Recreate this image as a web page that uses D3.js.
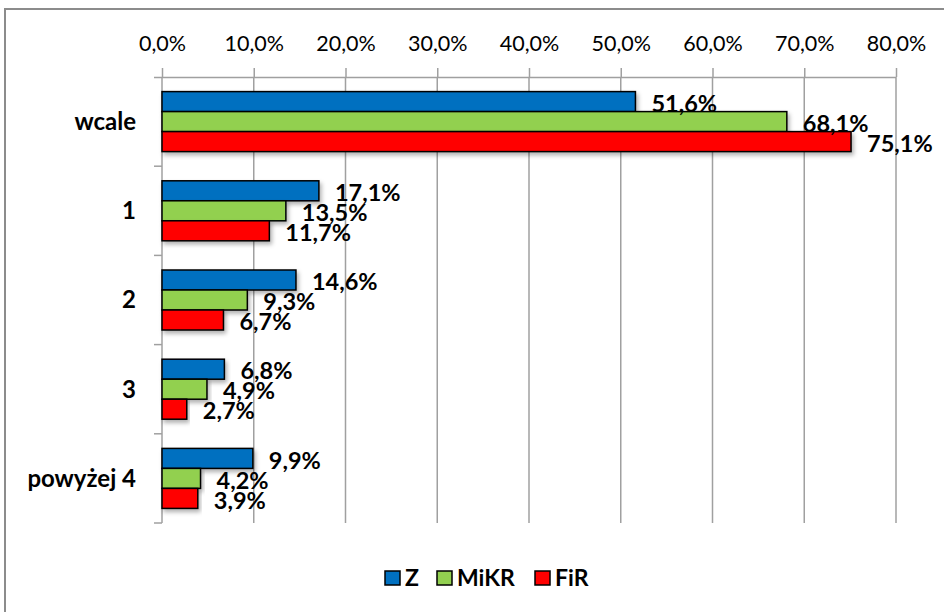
<!DOCTYPE html>
<html>
<head>
<meta charset="utf-8">
<script src="https://cdn.jsdelivr.net/npm/d3@7"></script>
<style>
  body { margin: 0; background: #fff; }
  svg { display: block; }
</style>
</head>
<body>
<div id="root"></div>
<script>
const categories = ["wcale", "1", "2", "3", "powyżej 4"]
const series = ["Z", "MiKR", "FiR"]
const valuesZ = [51.6, 17.1, 14.6, 6.8, 9.9]
const valuesMiKR = [68.1, 13.5, 9.3, 4.9, 4.2]
const valuesFiR = [75.1, 11.7, 6.7, 2.7, 3.9]
const ticks = [0, 10, 20, 30, 40, 50, 60, 70, 80]
const colors = ["#0070C0", "#92D050", "#FF0000"]

const w = 944, h = 612
const seriesValues = [valuesZ, valuesMiKR, valuesFiR]
const fmt = v => v.toFixed(1).replace(".", ",") + "%"

//scales
const x = d3.scaleLinear().domain([0, 80]).range([162, 896])
const y = d3.scaleBand().domain(categories).range([77, 523])
const ySub = d3.scaleBand().domain(series).range([0, y.bandwidth()]).paddingOuter(0.73)

const svg = d3.select("#root").append("svg")
    .attr("width", w)
    .attr("height", h)

const defs = svg.append("defs")
defs.append("filter").attr("id", "shadow")
    .attr("x", "-5%").attr("y", "-30%").attr("width", "115%").attr("height", "180%")
    .append("feDropShadow")
    .attr("dx", 2).attr("dy", 3).attr("stdDeviation", 2)
    .attr("flood-color", "#000").attr("flood-opacity", 0.3)

// chart frame
svg.append("rect")
    .attr("x", 5).attr("y", 9)
    .attr("width", w + 10).attr("height", h + 10)
    .attr("fill", "none")
    .attr("stroke", "#8c8c8c")
    .attr("stroke-width", 2)

// gridlines
svg.append("g").selectAll("line").data(ticks.slice(1)).enter().append("line")
    .attr("x1", d => x(d)).attr("x2", d => x(d))
    .attr("y1", 77).attr("y2", 523)
    .attr("stroke", "#a0a0a0")
    .attr("stroke-width", 1.5)

// top axis
const xAxis = svg.append("g")
    .attr("transform", "translate(0,77)")
    .call(d3.axisTop(x).tickValues(ticks).tickSize(9).tickSizeOuter(0).tickFormat(d => d.toFixed(1).replace(".", ",") + "%"))
xAxis.select(".domain").attr("stroke", "#a0a0a0").attr("stroke-width", 1.5)
xAxis.selectAll(".tick line").attr("stroke", "#a0a0a0").attr("stroke-width", 1.5)
xAxis.selectAll(".tick text")
    .attr("y", -26)
    .attr("font-family", "Lato, sans-serif")
    .attr("font-size", 21.5)
    .attr("fill", "#000")
xAxis.select(".domain").attr("d", "M154,0.5H" + x(80))

// left axis
const yTicks = categories.map(c => y(c)).concat([y.range()[1]])
const yAxis = svg.append("g")
yAxis.append("line")
    .attr("x1", x(0)).attr("x2", x(0))
    .attr("y1", 77).attr("y2", 523)
    .attr("stroke", "#a0a0a0").attr("stroke-width", 1.5)
yAxis.selectAll("line.tick").data(yTicks.slice(1)).enter().append("line")
    .attr("class", "tick")
    .attr("x1", 154).attr("x2", x(0))
    .attr("y1", d => d).attr("y2", d => d)
    .attr("stroke", "#a0a0a0").attr("stroke-width", 1.5)
yAxis.selectAll("text").data(categories).enter().append("text")
    .attr("x", 136)
    .attr("y", d => y(d) + y.bandwidth() / 2)
    .attr("dy", "0.35em")
    .attr("text-anchor", "end")
    .attr("font-family", "Lato, sans-serif")
    .attr("font-weight", "bold")
    .attr("font-size", 24)
    .text(d => d)

// bars
const rows = []
categories.forEach((c, i) => {
    series.forEach((s, j) => {
        rows.push({ cat: c, series: s, value: seriesValues[j][i], color: colors[j] })
    })
})

svg.append("g").selectAll("rect").data(rows).enter().append("rect")
    .attr("x", x(0))
    .attr("y", d => y(d.cat) + ySub(d.series))
    .attr("width", d => x(d.value) - x(0))
    .attr("height", ySub.bandwidth())
    .attr("fill", d => d.color)
    .attr("stroke", "#000")
    .attr("stroke-width", 1.5)
    .attr("filter", "url(#shadow)")

svg.append("g").selectAll("text").data(rows).enter().append("text")
    .attr("x", d => x(d.value) + 16)
    .attr("y", d => y(d.cat) + ySub(d.series) + ySub.bandwidth() / 2 + 2)
    .attr("dy", "0.35em")
    .attr("font-family", "Lato, sans-serif")
    .attr("font-weight", "bold")
    .attr("font-size", 23.5)
    .attr("fill", "#000")
    .text(d => fmt(d.value))

// legend
const legendX = [385, 437, 535]
const legend = svg.append("g").selectAll("g").data(series).enter().append("g")
    .attr("transform", (d, i) => "translate(" + legendX[i] + ",571)")
legend.append("rect")
    .attr("width", 15).attr("height", 14)
    .attr("fill", (d, i) => colors[i])
    .attr("stroke", "#000").attr("stroke-width", 1.5)
legend.append("text")
    .attr("x", 20).attr("y", 7)
    .attr("dy", "0.36em")
    .attr("font-family", "Lato, sans-serif")
    .attr("font-weight", "bold")
    .attr("font-size", 23)
    .text(d => d)
</script>
</body>
</html>
